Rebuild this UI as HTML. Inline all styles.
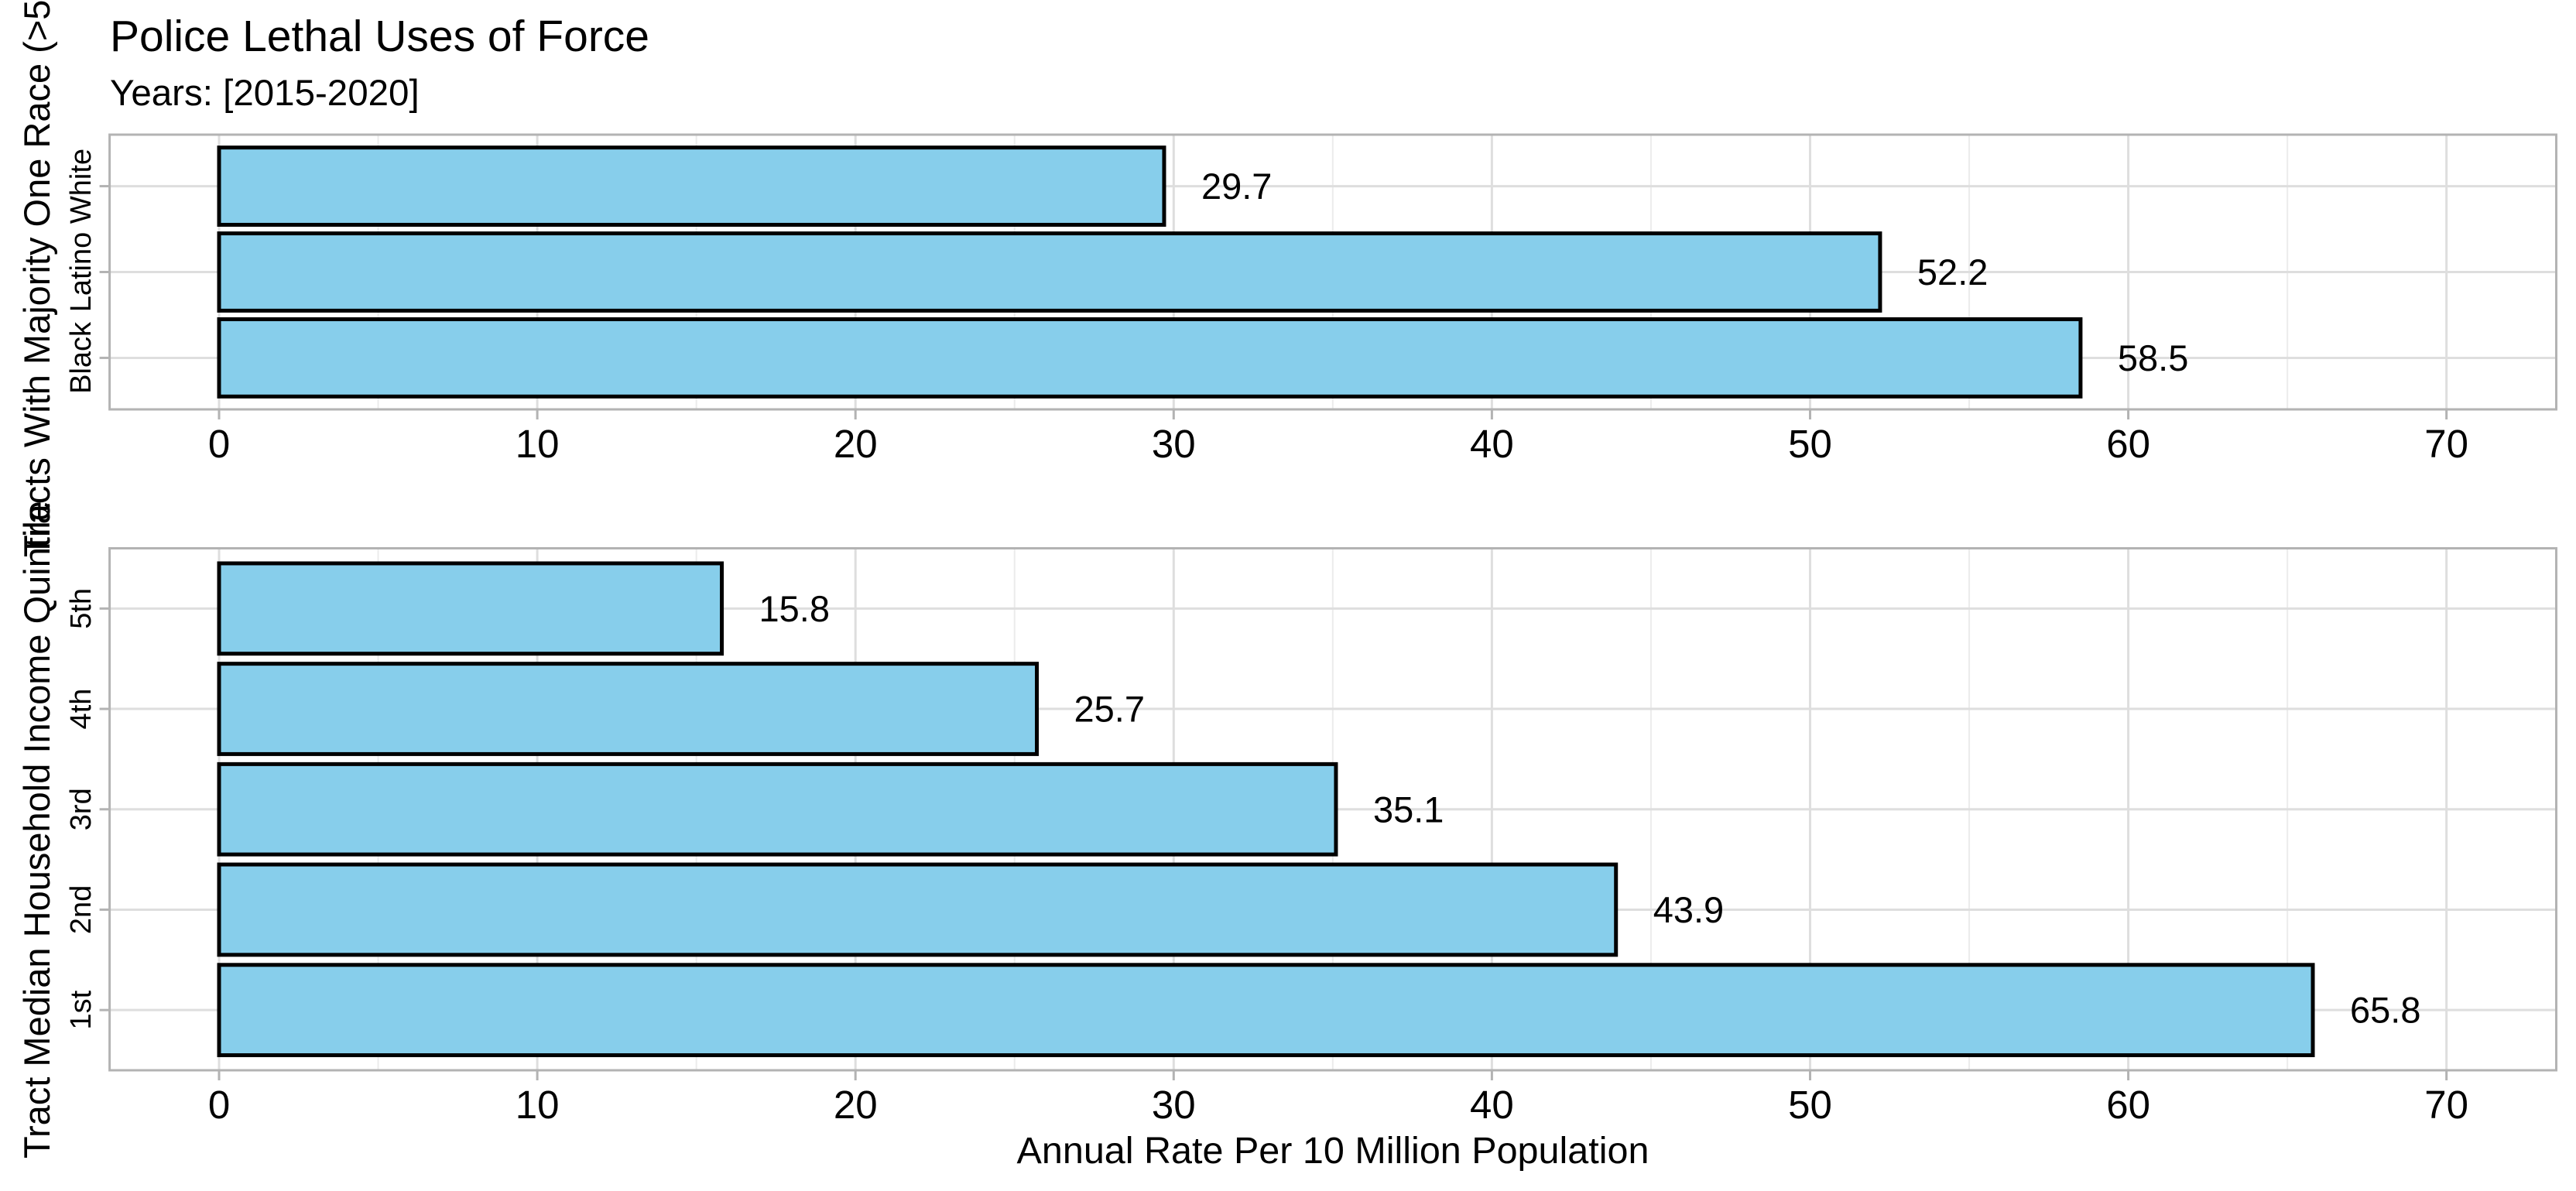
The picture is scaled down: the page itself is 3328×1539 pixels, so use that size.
<!DOCTYPE html>
<html><head><meta charset="utf-8"><style>
html,body{margin:0;padding:0;background:#fff;}
svg{display:block;font-family:"Liberation Sans",Arial,sans-serif;}
</style></head><body>
<svg id="chart" width="3328" height="1539" viewBox="0 0 3328 1539" xmlns="http://www.w3.org/2000/svg">
<text x="142" y="66" font-size="57" fill="#000">Police Lethal Uses of Force</text>
<text x="142" y="136" font-size="47.5" fill="#000">Years: [2015-2020]</text>
<g id="p1"></g>
<g id="p2"></g>
<text transform="translate(64,318) rotate(-90)" text-anchor="middle" font-size="47">Tracts With Majority One Race (&gt;50%)</text>
<text transform="translate(64,1072) rotate(-90)" text-anchor="middle" font-size="47">Tract Median Household Income Quintile</text>
<text x="1722" y="1503" text-anchor="middle" font-size="48.5">Annual Rate Per 10 Million Population</text>
</svg>
<script>
const raceCategories = ["Black", "Latino", "White"];
const raceValues = [58.5, 52.2, 29.7];
const incomeCategories = ["1st", "2nd", "3rd", "4th", "5th"];
const incomeValues = [65.8, 43.9, 35.1, 25.7, 15.8];
const xTicks = [0, 10, 20, 30, 40, 50, 60, 70];
const xMinorTicks = [5, 15, 25, 35, 45, 55, 65];

const NS = "http://www.w3.org/2000/svg";
const X0 = 141.6, X1 = 3302.5, XMIN = -3.44, XMAX = 73.45;
function xs(v){ return X0 + (v - XMIN) / (XMAX - XMIN) * (X1 - X0); }
function mk(tag, attrs, parent){
  const e = document.createElementNS(NS, tag);
  for (const k in attrs) e.setAttribute(k, attrs[k]);
  parent.appendChild(e); return e;
}
function panel(g, top, bottom, cats, vals, prefix){
  const n = cats.length;
  const ys = i => bottom - (i + 1 - 0.4) / (n + 0.2) * (bottom - top);
  const step = (bottom - top) / (n + 0.2);
  xMinorTicks.forEach(t => {
    const l = mk("line", {x1: xs(t), x2: xs(t), y1: top, y2: bottom, stroke: "#ececec", "stroke-width": 2}, g);
    
    
  });
  xTicks.forEach(t => {
    const l = mk("line", {x1: xs(t), x2: xs(t), y1: top, y2: bottom, stroke: "#dedede", "stroke-width": 3}, g);
    
    
    const tk = mk("line", {x1: xs(t), x2: xs(t), y1: bottom, y2: bottom + 13, stroke: "#b3b3b3", "stroke-width": 3}, g);
    
    
    const tx = mk("text", {x: xs(t), y: bottom + 62, "text-anchor": "middle", "font-size": 51, fill: "#000"}, g);
    tx.textContent = t;
    
    
  });
  cats.forEach((c, i) => {
    const y = ys(i);
    const gl = mk("line", {x1: X0, x2: X1, y1: y, y2: y, stroke: "#dedede", "stroke-width": 3}, g);
    
    
    const tk = mk("line", {x1: X0 - 13, x2: X0, y1: y, y2: y, stroke: "#b3b3b3", "stroke-width": 3}, g);
    
    
    const lb = mk("text", {transform: `translate(117,${y}) rotate(-90)`, "text-anchor": "middle", "font-size": 38, fill: "#000"}, g);
    lb.textContent = c;
    
    
  });
  const fr = mk("rect", {x: X0, y: top, width: X1 - X0, height: bottom - top, fill: "none", stroke: "#b3b3b3", "stroke-width": 3}, g);
  
  
  cats.forEach((c, i) => {
    const y = ys(i), h = step * 0.9, v = vals[i];
    const b = mk("rect", {x: xs(0), y: y - h/2, width: xs(v) - xs(0), height: h, fill: "#87CEEB", stroke: "#000", "stroke-width": 5}, g);
    
    
    const t = mk("text", {x: xs(v) + 48, y: y + 16.5, "font-size": 47, fill: "#000"}, g);
    t.textContent = v.toFixed(1);
    
    
  });
}
panel(document.getElementById("p1"), 174, 529, raceCategories, raceValues, "race");
panel(document.getElementById("p2"), 708.5, 1383, incomeCategories, incomeValues, "income");
</script>
</body></html>
